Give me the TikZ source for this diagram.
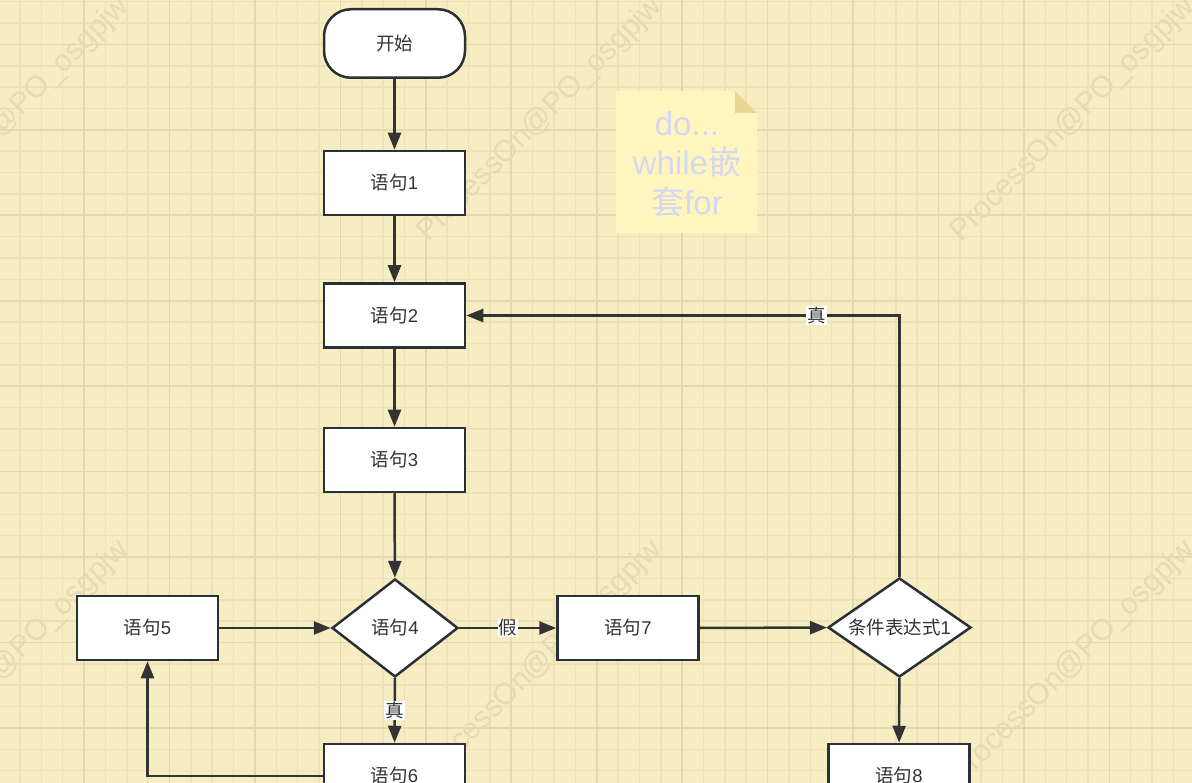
\documentclass[tikz,border=0pt]{standalone}
\usepackage{fontspec}
\setmainfont{Liberation Sans}
\newfontfamily\cjk{Noto Sans CJK SC}
\usetikzlibrary{shapes.geometric,arrows.meta}
\definecolor{bg}{HTML}{F6EEC2}
\definecolor{gridminor}{HTML}{ECE2B6}
\definecolor{gridmajor}{HTML}{E4D9AC}
\definecolor{edgec}{HTML}{333333}
\definecolor{borderc}{HTML}{2B3036}
\definecolor{txt}{HTML}{333333}
\definecolor{notefill}{HTML}{FFF5BE}
\definecolor{notefold}{HTML}{E8D590}
\definecolor{notetext}{HTML}{D4D8F2}
\definecolor{wm}{HTML}{E6DCB1}
\begin{document}
\begin{tikzpicture}[x=1pt,y=-1pt,
  box/.style={draw=borderc, fill=white, line width=2.5pt, minimum width=141pt,
    minimum height=64pt, inner sep=0pt, font=\fontsize{18.5}{22}\selectfont, text=txt},
  startbox/.style={box, rounded corners=27pt, minimum height=68.5pt},
  decision/.style={diamond, shape aspect=1.44, draw=borderc, fill=white, line width=2.5pt,
    inner sep=0pt, font=\fontsize{18.5}{22}\selectfont, text=txt},
  flow/.style={draw=edgec, line width=2.5pt, -{Triangle[length=17pt,width=13pt]}},
  elabel/.style={fill=white, inner sep=1pt, font=\fontsize{18.5}{22}\selectfont\cjk, text=txt},
  watermark/.style={rotate=45, text=wm, font=\fontsize{30}{30}\selectfont}
]
\useasboundingbox (0,0) rectangle (1192,783);
\clip (0,0) rectangle (1192,783);
\fill[bg] (0,0) rectangle (1192,783);
% grid
\foreach \k in {-1,...,56} {
  \draw[gridminor, line width=1.5pt] ({20+21.36*\k},0) -- ({20+21.36*\k},783);
}
\foreach \k in {-1,...,37} {
  \draw[gridminor, line width=1.5pt] (0,{1.7+21.36*\k}) -- (1192,{1.7+21.36*\k});
}
\foreach \k in {-1,...,14} {
  \draw[gridmajor, line width=1.7pt] ({84.1+85.44*\k},0) -- ({84.1+85.44*\k},783);
}
\foreach \k in {-1,...,9} {
  \draw[gridmajor, line width=1.7pt] (0,{44.4+85.44*\k}) -- (1192,{44.4+85.44*\k});
}
% watermarks
\foreach \wx in {7,540,1073} {
  \foreach \wy in {120,663} {
    \node[watermark] at (\wx,\wy) {ProcessOn@PO\_osgpjw};
  }
}
% note
\fill[notefill] (616,91) -- (735,91) -- (757,113) -- (757,233) -- (616,233) -- cycle;
\fill[notefold] (735,91) -- (757,113) -- (735,113) -- cycle;
\node[text=notetext, align=center, font=\fontsize{33}{39.5}\selectfont] (note) at (687,164)
  {do...\\while{\cjk 嵌}\\{\cjk 套}for};
% nodes
\node[startbox] (start) at (394.5,43.5) {\cjk 开始};
\node[box] (s1) at (394.5,183) {{\cjk 语句}1};
\node[box] (s2) at (394.5,315.5) {{\cjk 语句}2};
\node[box] (s3) at (394.5,460) {{\cjk 语句}3};
\node[decision, minimum width=126pt, minimum height=98pt] (s4) at (395,628) {{\cjk 语句}4};
\node[box] (s5) at (147.5,628) {{\cjk 语句}5};
\node[box] (s7) at (628,628) {{\cjk 语句}7};
\node[decision, minimum width=143pt, minimum height=99pt] (c1) at (899.5,627.5) {{\cjk 条件表达式}1};
\node[box] (s6) at (394.5,776) {{\cjk 语句}6};
\node[box] (s8) at (899,776) {{\cjk 语句}8};
% edges
\draw[flow] (start) -- (s1);
\draw[flow] (s1) -- (s2);
\draw[flow] (s2) -- (s3);
\draw[flow] (s3) -- (s4);
\draw[flow] (s4) -- node[elabel] {假} (s7);
\draw[flow] (s7) -- (c1);
\draw[flow] (c1.north) |- node[elabel, pos=0.596] {真} (s2.east);
\draw[flow] (c1) -- (s8);
\draw[flow] (s4) -- node[elabel] {真} (s6);
\draw[flow] (s6.west) -| (s5.south);
\draw[flow] (s5) -- (s4);
\end{tikzpicture}
\end{document}
